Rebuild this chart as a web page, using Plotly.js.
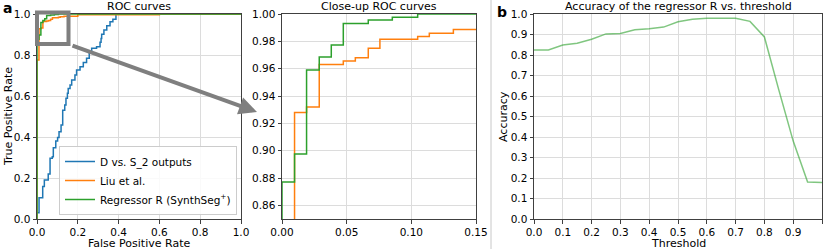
<!DOCTYPE html>
<html>
<head>
<meta charset="utf-8">
<script src="https://cdn.plot.ly/plotly-3.0.1.min.js"></script>
<style>html,body{margin:0;padding:0;background:#fff}</style>
</head>
<body>
<div id="chart" style="width:830px;height:249px"></div>
<script>
// ---- Data ----
// Panel a: ROC curves (staircase corners, drawn with 'hv' steps)
const blueFpr = [0, 0.01, 0.028, 0.036, 0.055, 0.064, 0.075, 0.08, 0.092, 0.101, 0.108, 0.118, 0.126, 0.136, 0.142, 0.149, 0.153, 0.162, 0.17, 0.186, 0.194, 0.211, 0.227, 0.243, 0.256, 0.268, 0.292, 0.309, 0.314, 0.317, 0.328, 0.342, 0.358, 0.372, 0.387, 1.0];
const blueTpr = [0.03, 0.104, 0.158, 0.19, 0.22, 0.296, 0.304, 0.348, 0.38, 0.397, 0.426, 0.459, 0.53, 0.556, 0.589, 0.613, 0.637, 0.654, 0.678, 0.702, 0.727, 0.743, 0.764, 0.784, 0.808, 0.833, 0.84, 0.862, 0.881, 0.901, 0.922, 0.943, 0.962, 0.975, 1.0, 1.0];

const orangeFpr = [0, 0, 0.0097, 0.019, 0.0288, 0.0474, 0.0567, 0.0667, 0.0757, 0.1049, 0.1139, 0.1325, 0.2, 0.6, 1.0];
const orangeTpr = [0, 0.776, 0.928, 0.932, 0.963, 0.9657, 0.968, 0.975, 0.9815, 0.9836, 0.986, 0.9886, 0.996, 1.0, 1.0];

const greenFpr = [0, 0, 0.0097, 0.019, 0.0288, 0.0381, 0.0474, 0.0667, 0.0853, 0.1049, 1.0];
const greenTpr = [0, 0.877, 0.8975, 0.959, 0.9686, 0.9773, 0.9931, 0.9956, 0.9977, 1.0, 1.0];

const seriesNames = ['D vs. S_2 outputs', 'Liu et al.', 'Regressor R (SynthSeg<sup>+</sup>)'];

// Panel b: accuracy vs threshold
const thresholds = [0, 0.05, 0.1, 0.15, 0.2, 0.25, 0.3, 0.35, 0.4, 0.45, 0.5, 0.55, 0.6, 0.65, 0.7, 0.75, 0.8, 0.85, 0.9, 0.95, 1.0];
const accuracy   = [0.824, 0.825, 0.849, 0.857, 0.877, 0.903, 0.905, 0.923, 0.928, 0.936, 0.962, 0.974, 0.979, 0.980, 0.979, 0.964, 0.888, 0.63, 0.38, 0.181, 0.178];

const titles = ['ROC curves', 'Close-up ROC curves', 'Accuracy of the regressor R vs. threshold'];
const axisTitles = {fpr: 'False Positive Rate', tpr: 'True Positive Rate', thr: 'Threshold', acc: 'Accuracy'};
const panelLabels = ['a', 'b'];

// ---- Styling ----
const FONT = 'DejaVu Sans, Verdana, sans-serif';
const C_BLUE = '#1f77b4', C_ORANGE = '#ff7f0e', C_GREEN = '#2ca02c';
const tickFont = {family: FONT, size: 10.5, color: '#000'};

function axis(extra) {
  return Object.assign({
    showgrid: true, gridcolor: '#dcdcdc', gridwidth: 1, zeroline: false,
    showline: true, linecolor: '#404040', linewidth: 1, mirror: true,
    ticks: 'outside', ticklen: 3.5, tickwidth: 1, tickcolor: '#404040',
    tickfont: tickFont, fixedrange: true, automargin: false
  }, extra);
}

const W = 830, H = 249;
const M = {l: 37, r: 8, t: 14, b: 30};
const PW = W - M.l - M.r, PH = H - M.t - M.b;
const px2x = p => (p - M.l) / PW;
const px2y = p => (H - M.b - p) / PH;

const traces = [
  {x: blueFpr, y: blueTpr, xaxis: 'x', yaxis: 'y', mode: 'lines', line: {color: C_BLUE, width: 1.5, shape: 'hv'}, name: seriesNames[0]},
  {x: orangeFpr, y: orangeTpr, xaxis: 'x', yaxis: 'y', mode: 'lines', line: {color: C_ORANGE, width: 1.5, shape: 'hv'}, name: seriesNames[1]},
  {x: greenFpr, y: greenTpr, xaxis: 'x', yaxis: 'y', mode: 'lines', line: {color: C_GREEN, width: 1.5, shape: 'hv'}, name: seriesNames[2]},
  {x: orangeFpr, y: orangeTpr, xaxis: 'x2', yaxis: 'y2', mode: 'lines', line: {color: C_ORANGE, width: 1.5, shape: 'hv'}, showlegend: false},
  {x: greenFpr, y: greenTpr, xaxis: 'x2', yaxis: 'y2', mode: 'lines', line: {color: C_GREEN, width: 1.5, shape: 'hv'}, showlegend: false},
  {x: thresholds, y: accuracy, xaxis: 'x3', yaxis: 'y3', mode: 'lines', line: {color: 'rgba(44,160,44,0.6)', width: 1.5}, showlegend: false}
];

const d1 = [0, px2x(241)], d2 = [px2x(282), px2x(476)], d3 = [px2x(534), 1];

const annFont = {family: FONT, size: 11, color: '#000'};
const annotations = [
  {text: titles[0], x: (d1[0] + d1[1]) / 2, y: px2y(6.5), xref: 'paper', yref: 'paper', showarrow: false, font: annFont, xanchor: 'center', yanchor: 'middle'},
  {text: titles[1], x: (d2[0] + d2[1]) / 2, y: px2y(6.5), xref: 'paper', yref: 'paper', showarrow: false, font: annFont, xanchor: 'center', yanchor: 'middle'},
  {text: titles[2], x: (d3[0] + d3[1]) / 2, y: px2y(6.5), xref: 'paper', yref: 'paper', showarrow: false, font: annFont, xanchor: 'center', yanchor: 'middle'},
  {text: axisTitles.fpr, x: (d1[0] + d1[1]) / 2, y: px2y(243), xref: 'paper', yref: 'paper', showarrow: false, font: annFont, xanchor: 'center', yanchor: 'middle'},
  {text: axisTitles.thr, x: (d3[0] + d3[1]) / 2, y: px2y(243), xref: 'paper', yref: 'paper', showarrow: false, font: annFont, xanchor: 'center', yanchor: 'middle'},
  {text: axisTitles.tpr, x: px2x(8), y: px2y(117), xref: 'paper', yref: 'paper', showarrow: false, font: annFont, xanchor: 'center', yanchor: 'middle', textangle: -90},
  {text: axisTitles.acc, x: px2x(503), y: px2y(117), xref: 'paper', yref: 'paper', showarrow: false, font: annFont, xanchor: 'center', yanchor: 'middle', textangle: -90},
  {text: '<b>' + panelLabels[0] + '</b>', x: px2x(7), y: px2y(8), xref: 'paper', yref: 'paper', showarrow: false, font: {family: FONT, size: 14, color: '#000'}, xanchor: 'center', yanchor: 'middle'},
  {text: '<b>' + panelLabels[1] + '</b>', x: px2x(502), y: px2y(12), xref: 'paper', yref: 'paper', showarrow: false, font: {family: FONT, size: 14, color: '#000'}, xanchor: 'center', yanchor: 'middle'},
  // zoom arrow
  {text: '', x: px2x(257), y: px2y(112), xref: 'paper', yref: 'paper', showarrow: true, ax: -186, ay: -67,
   arrowcolor: '#7f7f7f', arrowwidth: 4, arrowhead: 2, arrowsize: 0.9, standoff: 0, startstandoff: 0}
];

const shapes = [
  // inset indicator box (paper coords so the thick border is not clipped)
  {type: 'rect', xref: 'paper', yref: 'paper', x0: px2x(37), x1: px2x(68.5), y0: px2y(44), y1: px2y(12.5), line: {color: '#7f7f7f', width: 4}, layer: 'above'},
  {type: 'line', xref: 'paper', yref: 'paper', x0: px2x(491), x1: px2x(491), y0: px2y(249), y1: px2y(0), line: {color: '#c8c8c8', width: 1}}
];

const layout = {
  width: W, height: H,
  margin: M,
  paper_bgcolor: '#fff', plot_bgcolor: '#fff',
  font: {family: FONT, size: 11, color: '#000'},
  showlegend: true,
  legend: {x: px2x(237), y: px2y(215), xanchor: 'right', yanchor: 'bottom', bgcolor: 'rgba(255,255,255,0.85)',
           bordercolor: '#cccccc', borderwidth: 1, font: {family: FONT, size: 10.5, color: '#000'}, tracegroupgap: 0,
           itemwidth: 30},
  xaxis: axis({domain: d1, range: [0, 1], tick0: 0, dtick: 0.2, tickformat: '.1f', anchor: 'y'}),
  yaxis: axis({domain: [0, 1], range: [0, 1], tick0: 0, dtick: 0.2, tickformat: '.1f', anchor: 'x'}),
  xaxis2: axis({domain: d2, range: [0, 0.15], tick0: 0, dtick: 0.05, tickformat: '.2f', anchor: 'y2'}),
  yaxis2: axis({domain: [0, 1], range: [0.85, 1.0], tick0: 0.86, dtick: 0.02, tickformat: '.2f', anchor: 'x2'}),
  xaxis3: axis({domain: d3, range: [0, 1], tick0: 0, dtick: 0.1, tickformat: '.1f', anchor: 'y3'}),
  yaxis3: axis({domain: [0, 1], range: [0, 1], tick0: 0, dtick: 0.1, tickformat: '.1f', anchor: 'x3'}),
  annotations: annotations,
  shapes: shapes
};

Plotly.newPlot('chart', traces, layout, {displayModeBar: false, staticPlot: true});
</script>
</body>
</html>
